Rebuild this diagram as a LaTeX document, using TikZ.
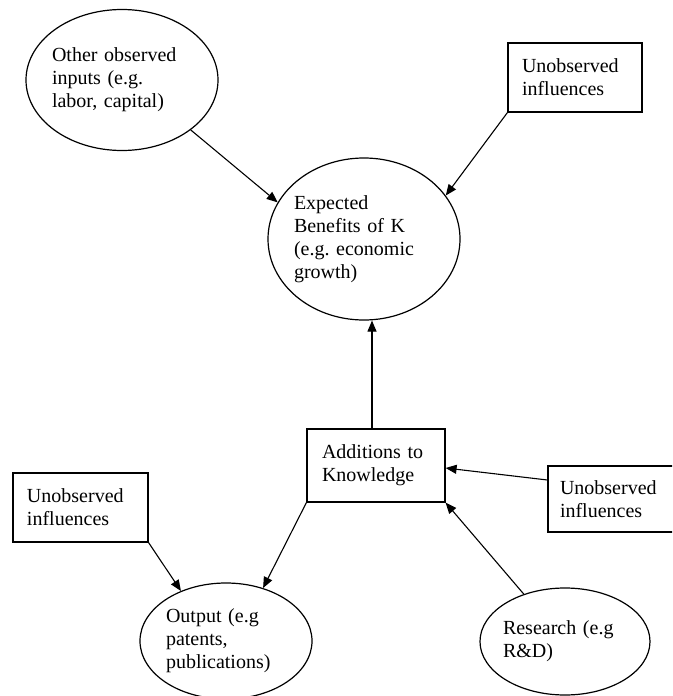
\documentclass[tikz,border=0pt]{standalone}
\usepackage{fontspec}
\setmainfont{Liberation Serif}
\usetikzlibrary{shapes.geometric,arrows.meta}
\frenchspacing
\begin{document}
\begin{tikzpicture}[x=1pt,y=-1pt,
  every node/.style={font=\fontsize{20}{23}\selectfont, align=left},
  ell/.style={draw, line width=1.2pt, ellipse, inner sep=-30pt},
  boxnode/.style={draw, line width=1.2pt, rectangle, inner sep=0pt},
  arr/.style={line width=1.1pt, -{Triangle[length=11pt,width=9pt]}}]
\clip (0,0) rectangle (672,696);
\fill[white] (0,0) rectangle (672,696);
% nodes
\node[ell, minimum width=192, minimum height=141, text width=140] (oth) at (122,80)
  {Other observed\\inputs (e.g.\\labor, capital)};
\node[boxnode, minimum width=134, minimum height=69, text width=106] (utr) at (575,77.5)
  {Unobserved\\influences};
\node[ell, minimum width=192, minimum height=162, text width=140] (exp) at (364,239)
  {Expected\\Benefits of K\\(e.g. economic\\growth)};
\node[boxnode, minimum width=138, minimum height=73, text width=108] (add) at (376,465.5)
  {Additions to\\Knowledge};
\node[boxnode, minimum width=135, minimum height=69, text width=107] (ul) at (80.5,507.5)
  {Unobserved\\influences};
\node[boxnode, minimum width=135, minimum height=66, text width=111] (ur) at (615.5,499)
  {Unobserved\\influences};
\node[ell, minimum width=172, minimum height=116, text width=120] (out) at (226,641)
  {Output (e.g\\patents,\\publications)};
\node[ell, minimum width=170, minimum height=107, text width=124] (res) at (565,641.5)
  {Research (e.g\\R\&D)};
% connectors
\draw[arr] (oth.-36) -- (exp.157);
\draw[arr] (utr.south west) -- (exp.28);
\coordinate (addtop) at ([xshift=-4pt]add.north);
\draw[arr] (addtop) -- (addtop |- exp.south);
\draw[arr] ([yshift=19pt]ur.west) -- ([yshift=-2.5pt]add.east);
\draw[arr] (res.131) -- (add.south east);
\draw[arr] (add.south west) -- (out.55);
\draw[arr] (ul.south east) -- (out.132);
\end{tikzpicture}
\end{document}
